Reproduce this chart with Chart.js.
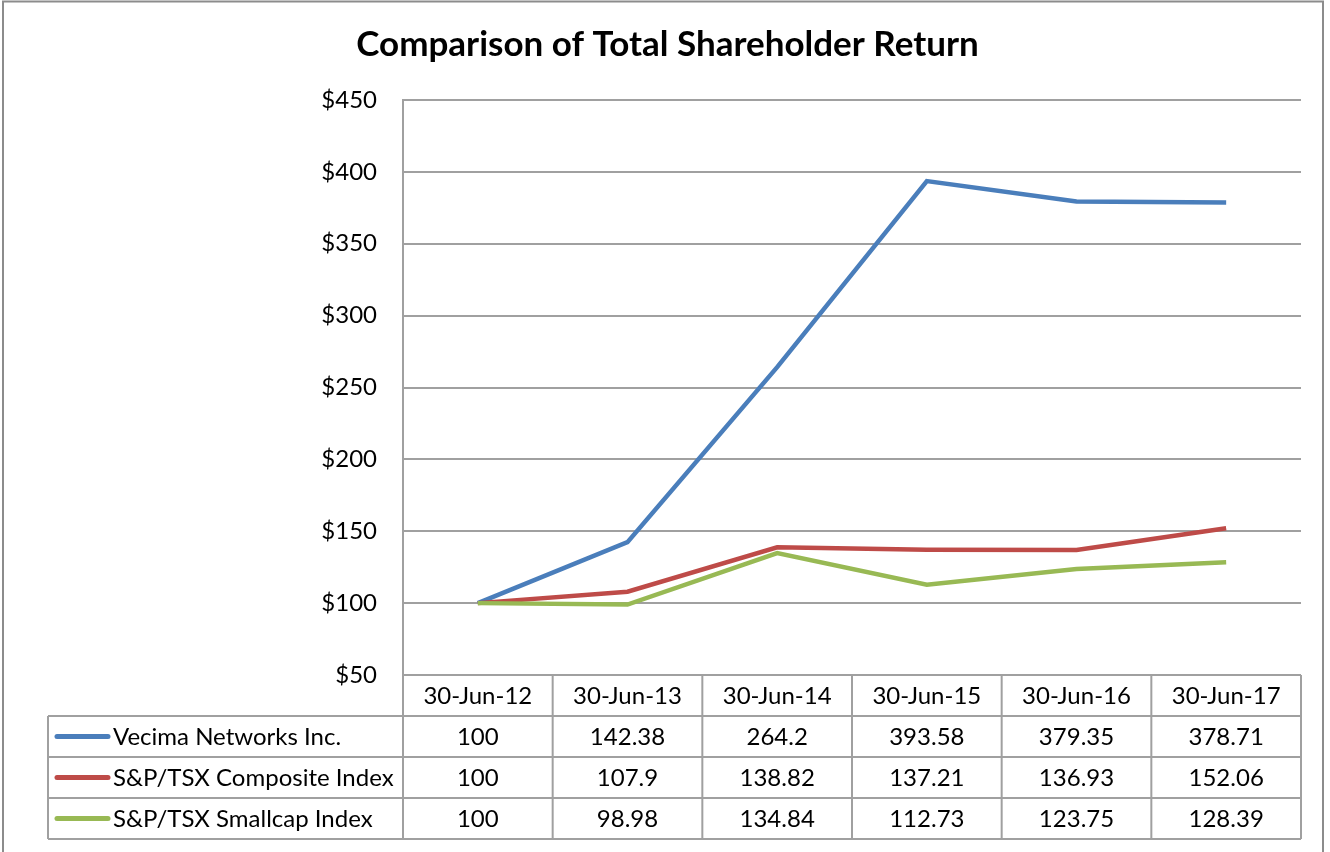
<!DOCTYPE html>
<html>
<head>
<meta charset="utf-8">
<script src="https://cdn.jsdelivr.net/npm/chart.js@4/dist/chart.umd.min.js"></script>
<style>
  html, body { margin: 0; padding: 0; background: #fff; }
  #wrap { width: 1330px; height: 852px; }
</style>
</head>
<body>
<div id="wrap"><canvas id="tsrChart" width="1330" height="852"></canvas></div>
<script>
const fechas = ['30-Jun-12', '30-Jun-13', '30-Jun-14', '30-Jun-15', '30-Jun-16', '30-Jun-17'];
const vecima = [100, 142.38, 264.2, 393.58, 379.35, 378.71];
const compuesto = [100, 107.9, 138.82, 137.21, 136.93, 152.06];
const smallcap = [100, 98.98, 134.84, 112.73, 123.75, 128.39];
const nombres = ['Vecima Networks Inc.', 'S&P/TSX Composite Index', 'S&P/TSX Smallcap Index'];
const colores = ['#4a7ebb', '#be4b48', '#98b954'];

const fuente = 'Lato, "Open Sans", sans-serif';
const gris = '#a0a0a0';

// tabla de datos debajo del grafico + marco exterior
const tablaPlugin = {
  id: 'tablaDatos',
  afterDraw(chart) {
    const ctx = chart.ctx;
    const area = chart.chartArea;
    const x = chart.scales.x;
    const colW = x.getPixelForValue(1) - x.getPixelForValue(0);
    const filaH = 41;
    const izq = 48;
    const top = area.bottom;
    const series = chart.data.datasets;

    ctx.save();
    ctx.strokeStyle = gris;
    ctx.lineWidth = 2;
    ctx.beginPath();
    // lineas horizontales
    ctx.moveTo(area.left, top);
    ctx.lineTo(area.right, top);
    for (let i = 1; i <= series.length + 1; i++) {
      ctx.moveTo(izq, top + filaH * i);
      ctx.lineTo(area.right, top + filaH * i);
    }
    // lineas verticales
    const fondo = top + filaH * (series.length + 1);
    ctx.moveTo(izq, top + filaH);
    ctx.lineTo(izq, fondo);
    for (let c = 0; c <= fechas.length; c++) {
      const px = area.left + colW * c;
      ctx.moveTo(px, top);
      ctx.lineTo(px, fondo);
    }
    ctx.stroke();

    ctx.fillStyle = '#000';
    ctx.font = '24px ' + fuente;
    ctx.textAlign = 'center';
    ctx.textBaseline = 'middle';
    fechas.forEach((f, c) => {
      ctx.fillText(f, x.getPixelForValue(c), top + filaH / 2 + 1);
    });
    series.forEach((ds, i) => {
      const cy = top + filaH * (i + 1) + filaH / 2 + 1;
      ds.data.forEach((v, c) => {
        ctx.fillText(String(v), x.getPixelForValue(c), cy);
      });
      ctx.strokeStyle = ds.borderColor;
      ctx.lineWidth = 5;
      ctx.lineCap = 'round';
      ctx.beginPath();
      ctx.moveTo(57, cy - 1);
      ctx.lineTo(108, cy - 1);
      ctx.stroke();
      ctx.textAlign = 'left';
      ctx.fillText(ds.label, 113, cy);
      ctx.textAlign = 'center';
    });

    // marco
    ctx.strokeStyle = '#8c8c8c';
    ctx.lineWidth = 2;
    ctx.strokeRect(3, 1.5, 1320, 870);
    ctx.restore();
  }
};

const ctx = document.getElementById('tsrChart').getContext('2d');
const chart = new Chart(ctx, {
  type: 'line',
  data: {
    labels: fechas,
    datasets: [
      { label: nombres[0], data: vecima, borderColor: colores[0], order: 3 },
      { label: nombres[1], data: compuesto, borderColor: colores[1], order: 2 },
      { label: nombres[2], data: smallcap, borderColor: colores[2], order: 1 }
    ].map(ds => Object.assign(ds, {
      backgroundColor: ds.borderColor,
      borderWidth: 4.5,
      pointRadius: 0,
      tension: 0,
      fill: false
    }))
  },
  options: {
    responsive: false,
    animation: false,
    layout: { padding: { left: 34, right: 29, top: 0, bottom: 177 } },
    plugins: {
      legend: { display: false },
      tooltip: { enabled: false },
      title: {
        display: true,
        text: 'Comparison of Total Shareholder Return',
        color: '#000',
        font: { family: fuente, size: 35, weight: 'bold', lineHeight: 1.2 },
        padding: { top: 24, bottom: 34 }
      }
    },
    scales: {
      x: {
        display: false,
        offset: true
      },
      y: {
        min: 50,
        max: 450,
        afterFit(scale) { scale.width = 369; },
        grid: { color: gris, lineWidth: 2, drawTicks: false },
        border: { display: true, color: gris, width: 2 },
        ticks: {
          stepSize: 50,
          padding: 26,
          color: '#000',
          font: { family: fuente, size: 24 },
          callback: v => '$' + v
        }
      }
    }
  },
  plugins: [tablaPlugin]
});
</script>
</body>
</html>
